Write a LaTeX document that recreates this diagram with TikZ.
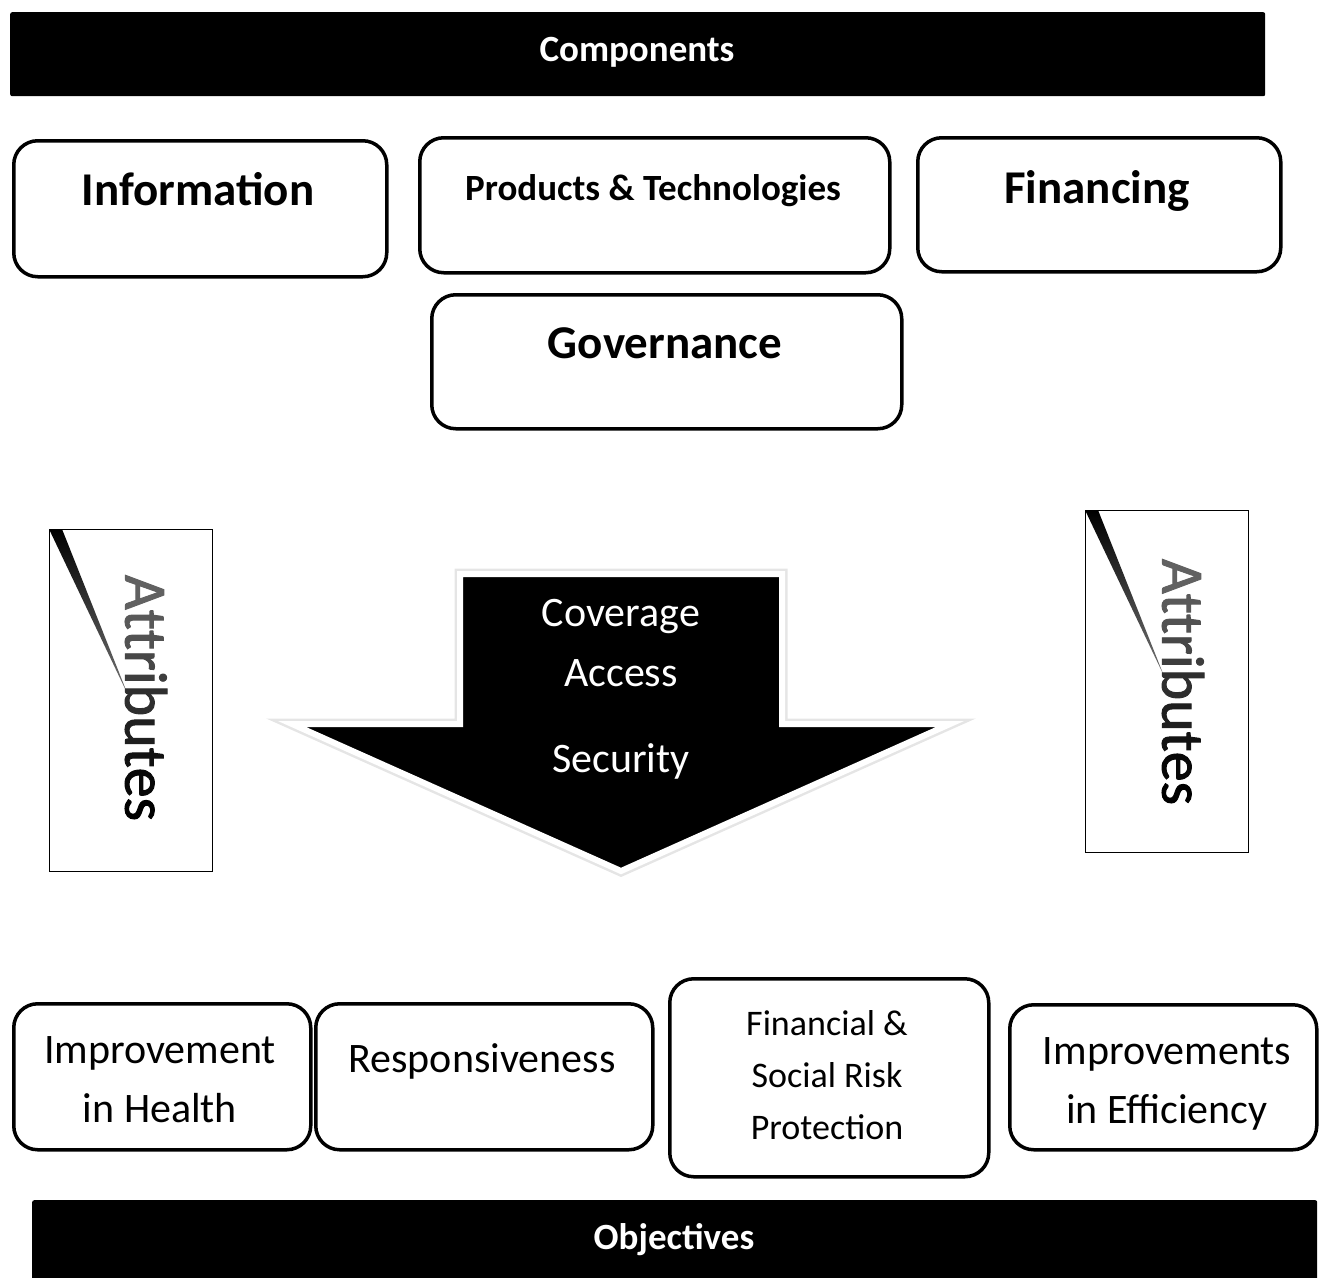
\documentclass[tikz,border=0pt]{standalone}
\usepackage{fontspec}
\setmainfont{Carlito}
\newfontfamily\attrfont[FakeBold=1.6]{Carlito}
\usepackage{tikz}

\newcommand{\sizeto}[2]{\fontsize{#1pt}{#2pt}\selectfont}
\newcommand{\attrword}{{\color{black!62}A}{\color{black!65}t}{\color{black!68}t}{\color{black!72}r}{\color{black!76}i}{\color{black!82}b}{\color{black!88}u}{\color{black!93}t}{\color{black!97}e}{\color{black}s}}

\begin{document}
\begin{tikzpicture}[x=1pt, y=-1pt,
    box/.style={draw, line width=3.5pt, rounded corners=24pt, anchor=north west, inner sep=0pt},
    bar/.style={fill=black, rounded corners=2pt, anchor=north west, inner sep=0pt},
    attrbox/.style={draw, line width=1.4pt, anchor=north west, inner sep=0pt},
    bartext/.style={white, font=\bfseries\sizeto{37}{44}},
    toptext/.style={font=\bfseries\sizeto{47}{56}},
    arrowtext/.style={white, font=\sizeto{42}{50}},
    objtext/.style={align=center, font=\sizeto{42}{59}},
    attrtext/.style={rotate=-90, font=\attrfont\sizeto{60}{70}}]
      \useasboundingbox (0,0) rectangle (1319,1277);

      % components
      \node[bar, minimum width=1255pt, minimum height=84pt] (compbar) at (10,12) {};
      \node[bartext] (comp) at (637,52) {Components};
      \foreach \nm/\x/\y/\w/\h in {info/12/139/373/136, prod/418/136/470/135,
                                   fin/916/136/363/134, gov/430/293/470/134} {
        \node[box, minimum width=\w pt, minimum height=\h pt] (\nm) at (\x,\y) {};
      }
      \node[toptext]                        (info-t) at (198,189) {Information};
      \node[toptext, font=\bfseries\sizeto{37}{44}] (prod-t) at (653,191) {Products \& Technologies};
      \node[toptext]                        (fin-t)  at (1097,191) {Financing};
      \node[toptext]                        (gov-t)  at (665,343) {Governance};

      % attributes
      \foreach \nm/\x/\y/\tx/\ty in {attl/49/529/146/698, attr/1085/510/1183/682} {
        \node[attrbox, minimum width=163pt, minimum height=342pt] (\nm) at (\x,\y) {};
        \shade[top color=black, bottom color=black!55]
              (\nm.north west) -- ++(13,0) -- ++(66,166) -- cycle;
        \node[attrtext] (\nm-t) at (\tx,\ty) {\attrword};
      }

      % arrow
      \foreach \col/\lw in {black!10/11pt, white/6pt} {
        \filldraw[fill=black, draw=\col, line width=\lw, line join=miter]
              (460,574) -- (782,574) -- (782,724) -- (950,724) -- (621,871)
              -- (292,724) -- (460,724) -- cycle;
      }
      \node[arrowtext] (cov)    at (621,616) {Coverage};
      \node[arrowtext] (access) at (621,673) {Access};
      \node[arrowtext] (sec)    at (621,761) {Security};

      % objectives
      \foreach \nm/\x/\y/\w/\h in {health/12/1002/297/146, resp/314/1002/337/146,
                                   risk/668/977/319/198, eff/1008/1003/307/145} {
        \node[box, minimum width=\w pt, minimum height=\h pt] (\nm) at (\x,\y) {};
      }
      \node[objtext] (health-t) at (160,1080) {Improvement\\in Health};
      \node[objtext] (resp-t)   at (482,1061) {Responsiveness};
      \node[objtext, font=\sizeto{36}{52}] (risk-t) at (827,1075) {Financial \&\\Social Risk\\Protection};
      \node[objtext] (eff-t)    at (1167,1084) {Improvements\\in Efficiency};
      \node[bar, minimum width=1285pt, minimum height=80pt] (objbar) at (32,1200) {};
      \node[bartext] (obj) at (674,1240) {Objectives};
    \end{tikzpicture}
\end{document}
